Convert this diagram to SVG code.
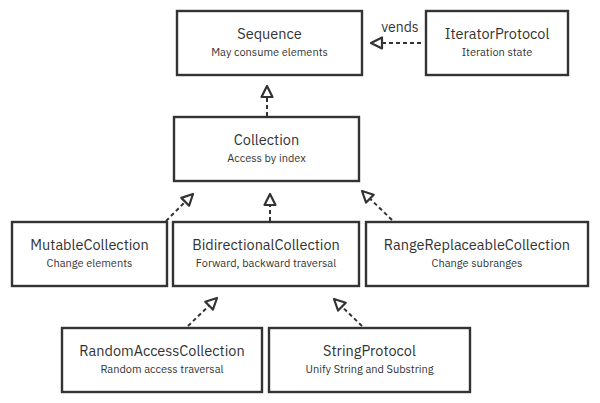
<svg xmlns="http://www.w3.org/2000/svg" width="600" height="403" viewBox="0 0 600 403">
  <style>
    .box { fill: #ffffff; stroke: #333333; stroke-width: 2.4; }
    .title { font-family: "IBM Plex Sans", "Liberation Sans", Arial, sans-serif; font-size: 14.5px; fill: #333333; text-anchor: middle; }
    .sub { font-family: "IBM Plex Sans", "Liberation Sans", Arial, sans-serif; font-size: 11px; fill: #333333; text-anchor: middle; }
    .label { font-family: "IBM Plex Sans", "Liberation Sans", Arial, sans-serif; font-size: 14px; fill: #333333; text-anchor: middle; }
    .edge { fill: none; stroke: #333333; stroke-width: 2; stroke-dasharray: 4 3; marker-end: url(#hollow); }
  </style>
  <defs>
    <marker id="hollow" viewBox="-2 -2 15 15" refX="11" refY="5.5" markerWidth="15" markerHeight="15" markerUnits="userSpaceOnUse" orient="auto">
      <path d="M0,0 L11,5.5 L0,11 Z" fill="#ffffff" stroke="#333333" stroke-width="2.2" stroke-linejoin="round"/>
    </marker>
  </defs>
  <rect width="600" height="403" fill="#ffffff"/>

  <g id="connectors">
    <path class="edge" d="M421,43 L371,43"/>
    <path class="edge" d="M267,116 L267,86"/>
    <path class="edge" d="M166,221 L193,194"/>
    <path class="edge" d="M270,221 L270,194"/>
    <path class="edge" d="M392,220 L362,191"/>
    <path class="edge" d="M188,326 L217,298"/>
    <path class="edge" d="M362,326 L334,299"/>
    <text class="label" x="400" y="32">vends</text>
  </g>

  <g id="Sequence">
    <rect class="box" x="177" y="11" width="185" height="64"/>
    <text class="title" x="269.5" y="39">Sequence</text>
    <text class="sub" x="269.5" y="56">May consume elements</text>
  </g>
  <g id="IteratorProtocol">
    <rect class="box" x="426" y="11" width="142" height="64"/>
    <text class="title" x="497" y="39">IteratorProtocol</text>
    <text class="sub" x="497" y="56">Iteration state</text>
  </g>
  <g id="Collection">
    <rect class="box" x="174" y="117" width="185" height="64"/>
    <text class="title" x="266.5" y="145">Collection</text>
    <text class="sub" x="266.5" y="162">Access by index</text>
  </g>
  <g id="MutableCollection">
    <rect class="box" x="12" y="222" width="155" height="64"/>
    <text class="title" x="89.5" y="250">MutableCollection</text>
    <text class="sub" x="89.5" y="267">Change elements</text>
  </g>
  <g id="BidirectionalCollection">
    <rect class="box" x="173" y="222" width="186" height="64"/>
    <text class="title" x="266" y="250">BidirectionalCollection</text>
    <text class="sub" x="266" y="267">Forward, backward traversal</text>
  </g>
  <g id="RangeReplaceableCollection">
    <rect class="box" x="366" y="222" width="222" height="64"/>
    <text class="title" x="477" y="250">RangeReplaceableCollection</text>
    <text class="sub" x="477" y="267">Change subranges</text>
  </g>
  <g id="RandomAccessCollection">
    <rect class="box" x="62" y="328" width="200" height="64"/>
    <text class="title" x="162" y="356">RandomAccessCollection</text>
    <text class="sub" x="162" y="373">Random access traversal</text>
  </g>
  <g id="StringProtocol">
    <rect class="box" x="269" y="328" width="201" height="64"/>
    <text class="title" x="369.5" y="356">StringProtocol</text>
    <text class="sub" x="369.5" y="373">Unify String and Substring</text>
  </g>
</svg>
